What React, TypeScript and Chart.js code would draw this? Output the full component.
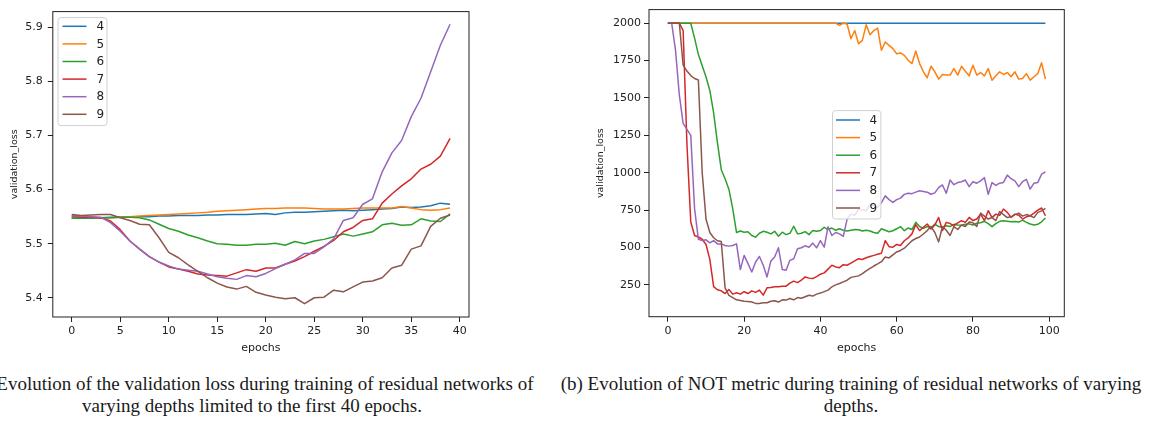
import React, { useEffect, useRef } from "react";
import { Chart, registerables } from "chart.js";

Chart.register(...registerables);

// Network depths shown in both panels, with the matplotlib "tab10" colours.
const depthLabels = ["4", "5", "6", "7", "8", "9"];
const lineColors = ["#1f77b4", "#ff7f0e", "#2ca02c", "#d62728", "#9467bd", "#8c564b"];

// ---- Panel (a): validation loss over the first 40 epochs ----
const lossEpochs = [
  0, 1, 2, 3, 4, 5, 6, 7, 8, 9, 10, 11, 12, 13, 14, 15, 16, 17, 18, 19,
  20, 21, 22, 23, 24, 25, 26, 27, 28, 29, 30, 31, 32, 33, 34, 35, 36, 37, 38, 39,
];
const lossTicksX = [0, 5, 10, 15, 20, 25, 30, 35, 40];
const lossTicksY = [5.4, 5.5, 5.6, 5.7, 5.8, 5.9];

const loss4 = [
  5.548, 5.548, 5.548, 5.548, 5.549, 5.549, 5.55, 5.55, 5.55, 5.551,
  5.551, 5.552, 5.552, 5.552, 5.553, 5.553, 5.554, 5.554, 5.554, 5.555,
  5.556, 5.554, 5.557, 5.558, 5.558, 5.559, 5.56, 5.561, 5.562, 5.561,
  5.562, 5.563, 5.564, 5.565, 5.568, 5.567, 5.568, 5.57, 5.575, 5.573,
];
const loss5 = [
  5.547, 5.547, 5.547, 5.547, 5.548, 5.549, 5.55, 5.551, 5.552, 5.553,
  5.554, 5.555, 5.556, 5.557, 5.558, 5.56, 5.561, 5.562, 5.563, 5.564,
  5.565, 5.565, 5.566, 5.566, 5.566, 5.565, 5.564, 5.564, 5.564, 5.565,
  5.566, 5.566, 5.566, 5.566, 5.569, 5.566, 5.563, 5.562, 5.563, 5.566,
];
const loss6 = [
  5.547, 5.547, 5.547, 5.548, 5.548, 5.549, 5.549, 5.548, 5.544, 5.536,
  5.528, 5.523, 5.516, 5.511, 5.505, 5.5, 5.499, 5.497, 5.497, 5.499,
  5.499, 5.501, 5.497, 5.504, 5.5, 5.505, 5.508, 5.513, 5.518, 5.514,
  5.518, 5.522, 5.535, 5.538, 5.534, 5.535, 5.546, 5.542, 5.541, 5.555,
];
const loss7 = [
  5.551, 5.549, 5.549, 5.548, 5.542, 5.526, 5.505, 5.49, 5.476, 5.466,
  5.457, 5.453, 5.449, 5.444, 5.442, 5.441, 5.44, 5.446, 5.452, 5.449,
  5.455, 5.455, 5.462, 5.468, 5.476, 5.486, 5.495, 5.506, 5.522, 5.53,
  5.543, 5.546, 5.575, 5.592, 5.607, 5.62, 5.638, 5.647, 5.662, 5.695,
];
const loss8 = [
  5.551, 5.551, 5.55, 5.549, 5.539, 5.523, 5.505, 5.49, 5.476, 5.466,
  5.459, 5.453, 5.451, 5.449, 5.444, 5.439, 5.436, 5.434, 5.441, 5.439,
  5.445, 5.454, 5.462, 5.47, 5.482, 5.482, 5.494, 5.509, 5.543, 5.548,
  5.573, 5.583, 5.633, 5.668, 5.691, 5.735, 5.769, 5.818, 5.867, 5.906,
];
const loss9 = [
  5.554, 5.552, 5.553, 5.554, 5.554, 5.548, 5.543, 5.536, 5.535, 5.511,
  5.484, 5.474, 5.461, 5.449, 5.437, 5.427, 5.42, 5.416, 5.421, 5.41,
  5.405, 5.401, 5.398, 5.4, 5.389, 5.4, 5.401, 5.414, 5.411, 5.42,
  5.429, 5.431, 5.437, 5.455, 5.46, 5.49, 5.496, 5.532, 5.547, 5.553,
];

// ---- Panel (b): NOT metric over 100 epochs ----
const notEpochs = [
  0, 1, 2, 3, 4, 5, 6, 7, 8, 9, 10, 11, 12, 13, 14, 15, 16, 17, 18, 19,
  20, 21, 22, 23, 24, 25, 26, 27, 28, 29, 30, 31, 32, 33, 34, 35, 36, 37, 38, 39,
  40, 41, 42, 43, 44, 45, 46, 47, 48, 49, 50, 51, 52, 53, 54, 55, 56, 57, 58, 59,
  60, 61, 62, 63, 64, 65, 66, 67, 68, 69, 70, 71, 72, 73, 74, 75, 76, 77, 78, 79,
  80, 81, 82, 83, 84, 85, 86, 87, 88, 89, 90, 91, 92, 93, 94, 95, 96, 97, 98, 99,
];
const notTicksX = [0, 20, 40, 60, 80, 100];
const notTicksY = [250, 500, 750, 1000, 1250, 1500, 1750, 2000];

const not4 = [
  2000, 2000, 2000, 2000, 2000, 2000, 2000, 2000, 2000, 2000,
  2000, 2000, 2000, 2000, 2000, 2000, 2000, 2000, 2000, 2000,
  2000, 2000, 2000, 2000, 2000, 2000, 2000, 2000, 2000, 2000,
  2000, 2000, 2000, 2000, 2000, 2000, 2000, 2000, 2000, 2000,
  2000, 2000, 2000, 2000, 2000, 2000, 2000, 2000, 2000, 2000,
  2000, 2000, 2000, 2000, 2000, 2000, 2000, 2000, 2000, 2000,
  2000, 2000, 2000, 2000, 2000, 2000, 2000, 2000, 2000, 2000,
  2000, 2000, 2000, 2000, 2000, 2000, 2000, 2000, 2000, 2000,
  2000, 2000, 2000, 2000, 2000, 2000, 2000, 2000, 2000, 2000,
  2000, 2000, 2000, 2000, 2000, 2000, 2000, 2000, 2000, 2000,
];
const not5 = [
  2000, 2000, 2000, 2000, 2000, 2000, 2000, 2000, 2000, 2000,
  2000, 2000, 2000, 2000, 2000, 2000, 2000, 2000, 2000, 2000,
  2000, 2000, 2000, 2000, 2000, 2000, 2000, 2000, 2000, 2000,
  2000, 2000, 2000, 2000, 2000, 2000, 2000, 2000, 2000, 2000,
  2000, 2000, 2000, 2000, 2000, 1985, 2000, 1995, 1896, 1951,
  1863, 1885, 1989, 1923, 1951, 1967, 1819, 1874, 1852, 1830,
  1796, 1801, 1785, 1752, 1730, 1814, 1730, 1675, 1635, 1712,
  1675, 1626, 1657, 1653, 1653, 1697, 1653, 1712, 1679, 1648,
  1719, 1653, 1670, 1648, 1697, 1619, 1648, 1675, 1657, 1670,
  1642, 1675, 1626, 1630, 1663, 1619, 1642, 1663, 1735, 1626,
];
const not6 = [
  2000, 2000, 2000, 2000, 2000, 2000, 2000, 1900, 1790, 1715,
  1640, 1550, 1400, 1200, 1020, 960, 890, 760, 600, 610,
  602, 605, 580, 569, 595, 608, 602, 591, 608, 575,
  602, 586, 595, 642, 591, 595, 606, 586, 613, 608,
  613, 635, 620, 630, 615, 625, 615, 610, 615, 620,
  618, 610, 615, 610, 600, 595, 625, 615, 605, 612,
  625, 640, 612, 630, 620, 668, 640, 628, 640, 632,
  657, 640, 636, 645, 640, 655, 650, 648, 655, 658,
  650, 662, 665, 675, 660, 639, 660, 675, 679, 676,
  672, 674, 670, 683, 668, 657, 650, 655, 672, 697,
];
const not7 = [
  2000, 2000, 2000, 2000, 1950, 1190, 670, 580, 570, 555,
  520, 420, 238, 217, 210, 192, 219, 188, 197, 188,
  204, 192, 210, 200, 215, 181, 230, 232, 237, 237,
  241, 241, 262, 275, 265, 281, 303, 295, 292, 305,
  321, 330, 355, 381, 370, 365, 385, 381, 395, 410,
  425, 420, 431, 440, 447, 455, 462, 546, 505, 502,
  520, 513, 545, 564, 591, 653, 613, 635, 657, 624,
  650, 701, 613, 668, 660, 646, 665, 679, 668, 701,
  680, 690, 723, 679, 746, 700, 723, 715, 757, 735,
  701, 723, 715, 690, 705, 712, 730, 750, 764, 712,
];
const not8 = [
  2000, 2000, 1820, 1520, 1330, 1290, 1250, 760, 555, 546,
  551, 531, 546, 524, 524, 513, 509, 513, 524, 352,
  447, 392, 336, 403, 440, 381, 303, 409, 436, 498,
  352, 347, 414, 425, 491, 498, 511, 502, 529, 498,
  546, 502, 639, 580, 600, 591, 574, 690, 723, 715,
  757, 750, 745, 790, 780, 768, 800, 845, 820, 801,
  820, 830, 855, 863, 860, 870, 879, 875, 870, 856,
  865, 900, 918, 863, 951, 920, 934, 940, 951, 907,
  940, 930, 945, 967, 856, 934, 915, 930, 935, 984,
  960, 945, 907, 940, 956, 890, 930, 935, 990, 1005,
];
const not9 = [
  2000, 2000, 2000, 2000, 1720, 1680, 1650, 1630, 1620, 1000,
  690, 600, 565, 545, 540, 230, 180, 165, 150, 145,
  140, 139, 135, 126, 126, 130, 130, 140, 144, 135,
  150, 148, 159, 150, 165, 160, 170, 180, 175, 188,
  195, 205, 215, 237, 250, 259, 270, 281, 300, 305,
  310, 325, 343, 360, 376, 390, 405, 436, 430, 450,
  470, 480, 495, 520, 545, 560, 570, 590, 613, 640,
  600, 537, 640, 615, 580, 640, 620, 650, 640, 670,
  665, 640, 730, 710, 690, 700, 680, 740, 720, 700,
  705, 720, 730, 710, 720, 712, 700, 735, 745, 762,
];

const INK = "#222222";
const FONT = "DejaVu Sans";

// Box around the plotting area (all four spines).
const framePlugin = {
  id: "frame",
  afterDatasetsDraw(chart: any) {
    const { ctx, chartArea: a } = chart;
    ctx.save();
    ctx.strokeStyle = INK;
    ctx.lineWidth = 1;
    ctx.strokeRect(a.left, a.top, a.right - a.left, a.bottom - a.top);
    ctx.restore();
  },
};

// Framed legend drawn inside the plotting area.
const boxLegendPlugin = {
  id: "boxLegend",
  afterDraw(chart: any, _args: any, opts: any) {
    const { ctx, chartArea: a } = chart;
    const x0 = a.left + opts.dx;
    const y0 = a.top + opts.dy;
    ctx.save();
    ctx.beginPath();
    const r = 3;
    const w = opts.width;
    const h = opts.height;
    ctx.moveTo(x0 + r, y0);
    ctx.arcTo(x0 + w, y0, x0 + w, y0 + h, r);
    ctx.arcTo(x0 + w, y0 + h, x0, y0 + h, r);
    ctx.arcTo(x0, y0 + h, x0, y0, r);
    ctx.arcTo(x0, y0, x0 + w, y0, r);
    ctx.closePath();
    ctx.fillStyle = "rgba(255,255,255,0.8)";
    ctx.fill();
    ctx.strokeStyle = "#d0d0d0";
    ctx.lineWidth = 1;
    ctx.stroke();
    ctx.font = `${opts.fontSize}px "${FONT}"`;
    ctx.textBaseline = "middle";
    ctx.textAlign = "left";
    chart.data.datasets.forEach((ds: any, k: number) => {
      const cy = y0 + opts.firstRow + k * opts.rowHeight;
      ctx.beginPath();
      ctx.strokeStyle = ds.borderColor;
      ctx.lineWidth = 1.5;
      ctx.moveTo(x0 + opts.sampleStart, cy);
      ctx.lineTo(x0 + opts.sampleEnd, cy);
      ctx.stroke();
      ctx.fillStyle = INK;
      ctx.fillText(ds.label, x0 + opts.textStart, cy + 0.5);
    });
    ctx.restore();
  },
};

function buildDatasets(xs: number[], series: number[][]) {
  return series.map((ys, k) => ({
    label: depthLabels[k],
    data: ys.map((y, i) => ({ x: xs[i], y })),
    borderColor: lineColors[k],
    backgroundColor: lineColors[k],
    borderWidth: 1.5,
    borderJoinStyle: "round" as const,
    pointRadius: 0,
    tension: 0,
    fill: false,
    order: series.length - k,
  }));
}

type PanelSpec = {
  xs: number[];
  series: number[][];
  xMin: number;
  xMax: number;
  yMin: number;
  yMax: number;
  xTicks: number[];
  yTicks: number[];
  yDecimals: number;
  yAxisWidth: number;
  xAxisHeight: number;
  padding: { top: number; right: number; left: number; bottom: number };
  yTitlePad: number;
  yTickPad: number;
  legend: any;
};

function Panel({ spec, left }: { spec: PanelSpec; left: number }) {
  const ref = useRef<HTMLCanvasElement | null>(null);

  useEffect(() => {
    if (!ref.current) return;
    const chart = new Chart(ref.current, {
      type: "line",
      data: { datasets: buildDatasets(spec.xs, spec.series) as any },
      options: {
        animation: false,
        responsive: false,
        devicePixelRatio: 1,
        layout: { padding: spec.padding },
        plugins: {
          legend: { display: false },
          tooltip: { enabled: false },
          boxLegend: spec.legend,
        } as any,
        scales: {
          x: {
            type: "linear",
            min: spec.xMin,
            max: spec.xMax,
            afterBuildTicks: (s: any) => {
              s.ticks = spec.xTicks.map((value) => ({ value }));
            },
            afterFit: (s: any) => {
              s.height = spec.xAxisHeight;
            },
            border: { display: false },
            grid: { drawOnChartArea: false, drawTicks: true, tickLength: 5, color: INK, lineWidth: 1 },
            ticks: {
              color: INK,
              font: { family: FONT, size: 11 },
              padding: 3,
              maxRotation: 0,
              autoSkip: false,
              callback: (v: any) => String(v),
            },
            title: {
              display: true,
              text: "epochs",
              color: INK,
              font: { family: FONT, size: 11 },
              padding: { top: 0, bottom: 5 },
            },
          },
          y: {
            type: "linear",
            min: spec.yMin,
            max: spec.yMax,
            afterBuildTicks: (s: any) => {
              s.ticks = spec.yTicks.map((value) => ({ value }));
            },
            afterFit: (s: any) => {
              s.width = spec.yAxisWidth;
            },
            border: { display: false },
            grid: { drawOnChartArea: false, drawTicks: true, tickLength: 5, color: INK, lineWidth: 1 },
            ticks: {
              color: INK,
              font: { family: FONT, size: 11 },
              padding: spec.yTickPad,
              callback: (v: any) => Number(v).toFixed(spec.yDecimals),
            },
            title: {
              display: true,
              text: "validation_loss",
              color: INK,
              font: { family: FONT, size: 9.5 },
              padding: { top: spec.yTitlePad, bottom: 0 },
            },
          },
        },
      },
      plugins: [framePlugin, boxLegendPlugin],
    });
    return () => chart.destroy();
  }, [spec]);

  return (
    <canvas
      ref={ref}
      width={576}
      height={360}
      style={{ position: "absolute", left, top: 0, width: 576, height: 360 }}
    />
  );
}

const lossPanel: PanelSpec = {
  xs: lossEpochs,
  series: [loss4, loss5, loss6, loss7, loss8, loss9],
  xMin: -1.95,
  xMax: 40.95,
  yMin: 5.3644,
  yMax: 5.9293,
  xTicks: lossTicksX,
  yTicks: lossTicksY,
  yDecimals: 1,
  yAxisWidth: 52.8,
  xAxisHeight: 43,
  padding: { top: 8, right: 107, left: 0, bottom: 0 },
  yTitlePad: 9.3,
  yTickPad: 5,
  legend: {
    dx: 5.2, dy: 6, width: 49, height: 108, firstRow: 8.7, rowHeight: 17.6,
    sampleStart: 4.5, sampleEnd: 28.5, textStart: 38.5, fontSize: 12,
  },
};

const notPanel: PanelSpec = {
  xs: notEpochs,
  series: [not4, not5, not6, not7, not8, not9],
  xMin: -4.95,
  xMax: 103.95,
  yMin: 37,
  yMax: 2091,
  xTicks: notTicksX,
  yTicks: notTicksY,
  yDecimals: 0,
  yAxisWidth: 73,
  xAxisHeight: 43.3,
  padding: { top: 7.3, right: 87.7, left: 0, bottom: 0 },
  yTitlePad: 19,
  yTickPad: 3,
  legend: {
    dx: 183.5, dy: 101, width: 48.4, height: 108.4, firstRow: 9.4, rowHeight: 17.6,
    sampleStart: 3.5, sampleEnd: 27.5, textStart: 37, fontSize: 12,
  },
};

const captionStyle: React.CSSProperties = {
  position: "absolute",
  top: 373,
  width: 800,
  textAlign: "center",
  fontFamily: '"Liberation Serif", serif',
  fontSize: 19,
  lineHeight: "22px",
  color: "#1a1a1a",
  whiteSpace: "nowrap",
};

export default function App() {
  useEffect(() => {
    document.body.style.margin = "0";
    document.body.style.overflow = "hidden";
  }, []);

  return (
    <div style={{ position: "relative", width: 1152, height: 421, overflow: "hidden", background: "#fff" }}>
      <Panel spec={lossPanel} left={0} />
      <Panel spec={notPanel} left={576} />
      <div style={{ ...captionStyle, left: 252 - 400 }}>
        <div>(a) Evolution of the validation loss during training of residual networks of</div>
        <div>varying depths limited to the first 40 epochs.</div>
      </div>
      <div style={{ ...captionStyle, left: 851 - 400 }}>
        <div>(b) Evolution of NOT metric during training of residual networks of varying</div>
        <div>depths.</div>
      </div>
    </div>
  );
}
